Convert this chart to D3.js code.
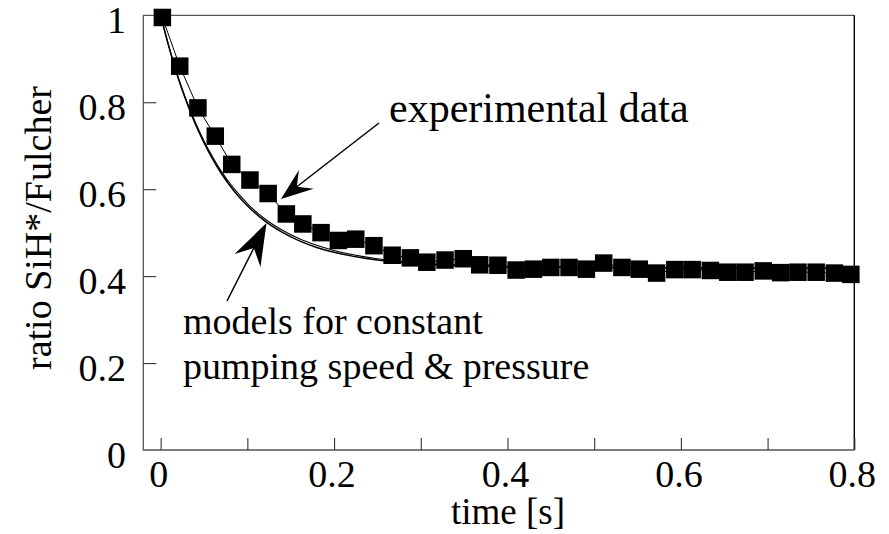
<!DOCTYPE html>
<html>
<head>
<meta charset="utf-8">
<script src="https://cdn.jsdelivr.net/npm/d3@7"></script>
<style>
  body { margin: 0; background: #fff; }
  text { font-family: "Liberation Serif", "Times New Roman", serif; fill: #000; }
</style>
</head>
<body>
<svg id="chart" width="889" height="534"></svg>
<script>
// tempi delle misure [s] e rapporto SiH*/Fulcher
var expTime = [0.002, 0.022, 0.043, 0.063, 0.082, 0.103, 0.124, 0.145, 0.164, 0.185,
  0.205, 0.225, 0.246, 0.267, 0.288, 0.307, 0.328, 0.349, 0.368, 0.389,
  0.410, 0.430, 0.450, 0.471, 0.491, 0.511, 0.532, 0.552, 0.572, 0.593,
  0.613, 0.634, 0.654, 0.674, 0.695, 0.715, 0.735, 0.756, 0.777, 0.796];
var expRatio = [0.995, 0.883, 0.787, 0.722, 0.657, 0.621, 0.590, 0.543, 0.520, 0.500,
  0.482, 0.485, 0.470, 0.448, 0.442, 0.432, 0.437, 0.440, 0.426, 0.425,
  0.414, 0.416, 0.420, 0.420, 0.416, 0.430, 0.420, 0.416, 0.407, 0.415,
  0.415, 0.413, 0.409, 0.409, 0.412, 0.408, 0.409, 0.409, 0.407, 0.404];

// i due modelli (velocita' di pompaggio costante / pressione costante)
var modelTime = [0, 0.01, 0.02, 0.03, 0.04, 0.05, 0.06, 0.07, 0.08, 0.09, 0.10,
  0.12, 0.14, 0.16, 0.18, 0.20, 0.25, 0.30, 0.35, 0.40, 0.50, 0.60, 0.70, 0.80];
var modelSpeed = [1.0, 0.924, 0.857, 0.800, 0.750, 0.707, 0.669, 0.636, 0.608, 0.583, 0.562,
  0.527, 0.501, 0.481, 0.466, 0.455, 0.437, 0.428, 0.424, 0.422, 0.420, 0.419, 0.418, 0.418];
var modelPressure = [1.0, 0.925, 0.859, 0.803, 0.754, 0.711, 0.674, 0.641, 0.613, 0.589, 0.567,
  0.532, 0.506, 0.486, 0.471, 0.459, 0.440, 0.430, 0.425, 0.422, 0.420, 0.419, 0.418, 0.418];

var xTicks = [0, 0.1, 0.2, 0.3, 0.4, 0.5, 0.6, 0.7, 0.8];
var xLabels = [0, 0.2, 0.4, 0.6, 0.8];
var yTicks = [0, 0.2, 0.4, 0.6, 0.8, 1];

var svg = d3.select('#chart');
var sx = 143.3, dx0 = 854.3, alto = 15.3, basso = 450; // bordi dell'area del grafico

var x = d3.scaleLinear().domain([-0.02, 0.8]).range([sx, dx0]);
var y = d3.scaleLinear().domain([0, 1]).range([basso, alto]);

// cornice
svg.append('path')
  .attr('d', 'M' + dx0 + ' ' + alto + ' L' + sx + ' ' + alto + ' L' + sx + ' ' + basso + ' L' + dx0 + ' ' + basso)
  .attr('style', 'fill:none;stroke:#555;stroke-width:1.3');
svg.append('line')
  .attr('x1', dx0).attr('x2', dx0).attr('y1', alto).attr('y2', basso)
  .attr('style', 'stroke:#000;stroke-width:1.4');

// assi con tacche verso l'interno
var xAxis = svg.append('g').attr('transform', 'translate(0,' + basso + ')')
  .call(d3.axisBottom(x).tickValues(xTicks).tickSize(-12).tickFormat(''));
xAxis.select('.domain').remove();
xAxis.selectAll('line').attr('stroke', '#333').attr('stroke-width', 1.1);

var yAxis = svg.append('g').attr('transform', 'translate(' + sx + ',0)')
  .call(d3.axisLeft(y).tickValues(yTicks.slice(1, 5)).tickSize(-13).tickFormat(''));
yAxis.select('.domain').remove();
yAxis.selectAll('line').attr('stroke', '#333').attr('stroke-width', 1.1);

svg.selectAll('.xlab').data(xLabels).enter().append('text')
  .attr('x', function (d) { return x(d) - 2; })
  .attr('y', basso + 37)
  .attr('text-anchor', 'middle')
  .style('font-size', '38px')
  .text(function (d) { return d; });

svg.selectAll('.ylab').data(yTicks).enter().append('text')
  .attr('x', 126)
  .attr('y', function (d) { return y(d) + 18; })
  .attr('text-anchor', 'end')
  .style('font-size', '38px')
  .text(function (d) { return d; });

svg.append('text')
  .attr('x', 508).attr('y', 524)
  .attr('text-anchor', 'middle')
  .style('font-size', '37px')
  .text('time [s]');

svg.append('text')
  .attr('transform', 'translate(51,228) rotate(-90)')
  .attr('text-anchor', 'middle')
  .style('font-size', '38px')
  .text('ratio SiH*/Fulcher');

// curve dei modelli
var modelLine = d3.line()
  .x(function (d) { return x(d[0]); })
  .y(function (d) { return y(d[1]); })
  .curve(d3.curveMonotoneX);

svg.append('path')
  .attr('d', modelLine(d3.zip(modelTime, modelSpeed)))
  .attr('style', 'fill:none;stroke:#000;stroke-width:1.5');
svg.append('path')
  .attr('d', modelLine(d3.zip(modelTime, modelPressure)))
  .attr('style', 'fill:none;stroke:#000;stroke-width:1.1');

// dati sperimentali: linea sottile + quadrati pieni
var expPoints = d3.zip(expTime, expRatio);
svg.append('path')
  .attr('d', d3.line().x(function (d) { return x(d[0]); }).y(function (d) { return y(d[1]); })(expPoints))
  .attr('style', 'fill:none;stroke:#000;stroke-width:1');

var side = 17.5;
svg.selectAll('.punto').data(expPoints).enter().append('rect')
  .attr('x', function (d) { return x(d[0]) - side / 2; })
  .attr('y', function (d) { return y(d[1]) - side / 2; })
  .attr('width', side).attr('height', side)
  .attr('fill', '#000');

// frecce con punta intagliata
function freccia(x1, y1, x2, y2, lung, mezza, intaglio) {
  var vx = x2 - x1, vy = y2 - y1;
  var l = Math.sqrt(vx * vx + vy * vy);
  var ux = vx / l, uy = vy / l; // verso la punta
  var px = -uy, py = ux;
  svg.append('line')
    .attr('x1', x1).attr('y1', y1)
    .attr('x2', x2 - ux * intaglio).attr('y2', y2 - uy * intaglio)
    .attr('style', 'stroke:#000;stroke-width:1.5');
  var bx = x2 - ux * lung, by = y2 - uy * lung;
  var nx = x2 - ux * intaglio, ny = y2 - uy * intaglio;
  svg.append('path')
    .attr('d', 'M' + x2 + ' ' + y2 +
      ' L' + (bx + px * mezza) + ' ' + (by + py * mezza) +
      ' L' + nx + ' ' + ny +
      ' L' + (bx - px * mezza) + ' ' + (by - py * mezza) + ' Z')
    .attr('fill', '#000');
}

freccia(379, 123, 281, 199, 32, 12, 20);
freccia(227, 301, 266.5, 223, 42, 14.5, 28);

// testi delle annotazioni
svg.append('text').attr('x', 389).attr('y', 122).style('font-size', '42px').text('experimental data');
svg.append('text').attr('x', 183).attr('y', 334).style('font-size', '38px').text('models for constant');
svg.append('text').attr('x', 183).attr('y', 379).style('font-size', '38px').text('pumping speed & pressure');
</script>
</body>
</html>
